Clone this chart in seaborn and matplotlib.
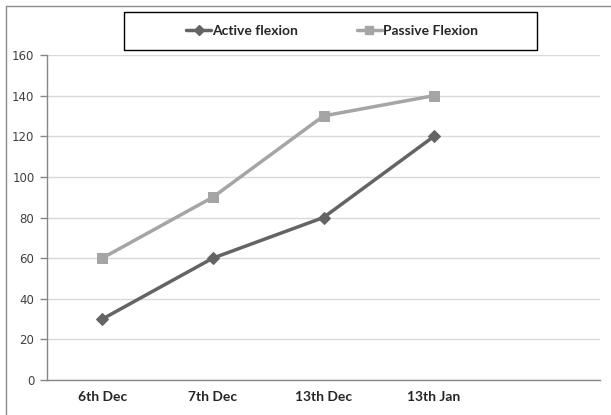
import matplotlib
matplotlib.use("Agg")
import matplotlib.pyplot as plt
import seaborn as sns
import pandas as pd
from matplotlib.patches import Rectangle
from matplotlib.lines import Line2D

categories = ["6th Dec", "7th Dec", "13th Dec", "13th Jan"]
active_flexion = [30, 60, 80, 120]
passive_flexion = [60, 90, 130, 140]
yticks = [0, 20, 40, 60, 80, 100, 120, 140, 160]

sns.set_theme(style="white")
plt.rcParams['font.family'] = ['Lato', 'DejaVu Sans']

df = pd.DataFrame({
    "x": list(range(len(categories))) * 2,
    "value": active_flexion + passive_flexion,
    "series": ["Active flexion"] * len(categories) + ["Passive Flexion"] * len(categories),
})

W, H = 611, 415
fig = plt.figure(figsize=(W/100, H/100), dpi=100)
ax = fig.add_axes([47/W, 1-380/H, (600-47)/W, (380-55)/H])

dark = "#646464"
light = "#a5a5a5"
sns.lineplot(data=df[df.series == "Active flexion"], x="x", y="value", ax=ax,
             color=dark, lw=2.5, marker="D", markersize=6, markeredgecolor=dark, legend=False)
sns.lineplot(data=df[df.series == "Passive Flexion"], x="x", y="value", ax=ax,
             color=light, lw=2.5, marker="s", markersize=7, markeredgecolor=light, legend=False)

ax.set_xlim(-0.5, 4.5)
ax.set_ylim(0, 160)
ax.set_yticks(yticks)
ax.set_yticklabels([str(v) for v in yticks], fontsize=8.5, color="#404040", family=['DejaVu Sans'])
ax.set_xticks(range(len(categories)))
ax.set_xticklabels(categories, fontsize=10, fontweight="bold", color="#262626")
ax.set_xticks([i - 0.5 for i in range(6)], minor=True)
ax.tick_params(axis="x", which="major", length=0, pad=8)
ax.tick_params(axis="x", which="minor", length=5, color="#868686", width=1, direction="out")
ax.tick_params(axis="y", length=5, color="#868686", width=1, direction="out", left=True, pad=4)
ax.set_xlabel("")
ax.set_ylabel("")
ax.grid(axis="y", color="#d9d9d9", lw=1)
ax.set_axisbelow(True)
for s in ["top", "right"]:
    ax.spines[s].set_visible(False)
for s in ["left", "bottom"]:
    ax.spines[s].set_color("#868686")
    ax.spines[s].set_linewidth(1)

handles = [
    Line2D([0], [0], color=dark, lw=2.5, marker="D", markersize=5),
    Line2D([0], [0], color=light, lw=2.5, marker="s", markersize=6),
]
leg = fig.legend(handles, ["Active flexion", "Passive Flexion"], loc="center",
                 bbox_to_anchor=(332/W, 1-31/H), ncol=2, frameon=False,
                 prop={"weight": "bold", "size": 10},
                 handlelength=1.8, handletextpad=0.1, columnspacing=4.2)
leg.set_zorder(5)

fig.patches.append(Rectangle((124/W, 1-50/H), (537-124)/W, 38/H, transform=fig.transFigure,
                             fill=False, edgecolor="black", lw=1, zorder=4))
fig.add_artist(Line2D([6/W, 1.0], [1-6/H, 1-6/H], transform=fig.transFigure,
                      color="#8c8c8c", lw=1))
fig.add_artist(Line2D([6/W, 6/W], [0.0, 1-6/H], transform=fig.transFigure,
                      color="#8c8c8c", lw=1))

fig.savefig("out.png", dpi=100)
